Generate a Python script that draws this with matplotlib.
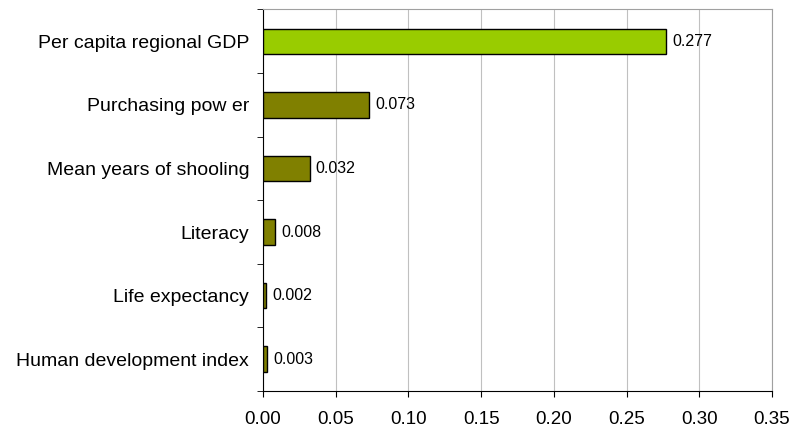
import numpy as np
import matplotlib.pyplot as plt

plt.rcParams['font.family'] = ['Liberation Sans', 'DejaVu Sans']

# categories listed top to bottom
labels = ["Per capita regional GDP", "Purchasing pow er", "Mean years of shooling",
          "Literacy", "Life expectancy", "Human development index"]
values = [0.277, 0.073, 0.032, 0.008, 0.002, 0.003]
colors = ["#99CC00", "#808000", "#808000", "#808000", "#808000", "#808000"]
xticks = [0.00, 0.05, 0.10, 0.15, 0.20, 0.25, 0.30, 0.35]

fig = plt.figure(figsize=(7.93, 4.30), dpi=100)
ax = fig.add_axes([0.3317, 0.0907, 0.9735 - 0.3317, 0.978 - 0.0907])

y = np.arange(len(labels))
ax.barh(y, values, height=0.4, color=colors, edgecolor="black", linewidth=1.0, zorder=3)

# value labels just right of each bar
for yi, v in zip(y, values):
    ax.annotate(f"{v:.3f}", xy=(v, yi), xytext=(4.5, 0), textcoords="offset points",
                va="center", ha="left", fontsize=11.5, zorder=4)

ax.set_ylim(len(labels) - 0.5, -0.5)
ax.set_xlim(0, 0.35)
ax.set_xticks(xticks)
ax.set_xticklabels([f"{t:.2f}" for t in xticks], fontsize=13.5)

# labels at bar centres, tick marks on category boundaries
ax.set_yticks(y)
ax.set_yticklabels(labels, fontsize=14)
ax.tick_params(axis="y", length=0, pad=10)
ax.set_yticks(np.arange(-0.5, len(labels), 1), minor=True)
ax.tick_params(axis="y", which="minor", length=4.5, direction="out", color="black")
ax.tick_params(axis="x", length=4.5, direction="out", color="black", pad=10)

ax.grid(axis="x", color="#c0c0c0", linewidth=0.8, zorder=0)
ax.spines["left"].set_color("black")
ax.spines["bottom"].set_color("black")
ax.spines["top"].set_color("#a0a0a0")
ax.spines["right"].set_color("#a0a0a0")

fig.savefig("out.png", dpi=100)
